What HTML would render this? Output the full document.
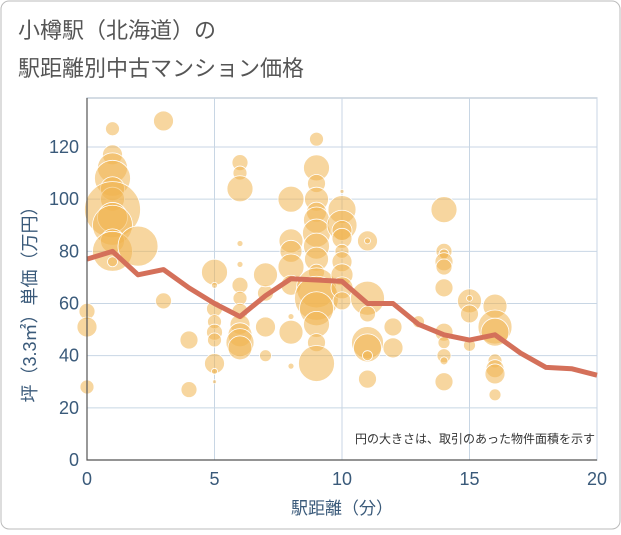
<!DOCTYPE html>
<html><head><meta charset="utf-8"><style>
body{margin:0;background:#fff;}
svg text{font-family:"Liberation Sans","Noto Sans CJK JP",sans-serif;}
</style></head><body>
<svg id="c" width="621" height="530" viewBox="0 0 621 530">
<rect x="1" y="1" width="619" height="528" rx="8" fill="#fff" stroke="#bbb"/>
<text x="18" y="38" font-size="22" fill="#555">小樽駅（北海道）の</text>
<text x="18" y="76" font-size="22" fill="#555">駅距離別中古マンション価格</text>
<g id="grid"></g><g id="bubbles"></g><g id="line"></g><g id="axes"></g>
<text x="595" y="443" font-size="12" fill="#333" text-anchor="end">円の大きさは、取引のあった物件面積を示す</text>
<text x="342" y="514" font-size="17" fill="#3a5a7a" text-anchor="middle">駅距離（分）</text>
<text transform="translate(36,300) rotate(-90)" font-size="18" fill="#3a5a7a" text-anchor="middle">坪（3.3㎡）単価（万円）</text>
</svg>
<script>
const xTicks=[0,5,10,15,20];
const yTicks=[0,20,40,60,80,100,120];
const lineX=[0,1,2,3,4,5,6,7,8,9,10,11,12,13,14,15,16,17,18,19,20];
const lineY=[77,80,71,73,66,60,55,63,69.5,69,68.5,60,60,52,48,46,48,41,35.5,35,32.5];
const bubbleX=[0,0,0,1,1,1,1,1,1,1,1,1,1,1,1,2,3,3,4,4,5,5,5,5,5,5,5,5,5,6,6,6,6,6,6,6,6,6,6,6,6,7,7,7,7,8,8,8,8,8,8,8,8,9,9,9,9,9,9,9,9,9,9,9,9,9,9,9,9,10,10,10,10,10,10,10,10,10,10,11,11,11,11,11,11,11,11,12,12,13,14,14,14,14,14,14,14,14,14,14,14,15,15,15,15,16,16,16,16,16,16,16];
const bubbleY=[57,51,28,127,117,112,108,104,100,96,93,90,84,80,76,82,130,61,46,27,72,67,58,53,49,46,37,34,30,114,110,104,83,75,67,62,57,52,48,45,43,64,71,51,40,100,84,80,74,67,55,49,36,123,112,106,100,95,92,87,82,77,72,66,62,58,52,45,37,103,96,90,88,85,80,76,71,66,61,84,84,62,56,45,43,40,31,51,43,53,96,80,79,76,74,66,49,45,40,38,30,61,62,56,44,59,51,49,38,35,33,25];
const bubbleSize=[8,10,7,7,10,15,18,12,12,28,15,20,12,20,5,20,10,8,9,8,13,3,8,7,8,7,10,3,2,8,7,13,3,3,8,7,8,10,12,14,12,8,12,10,6,13,12,11,13,10,3,12,3,7,13,9,12,10,13,14,13,12,8,20,22,17,13,9,18,2,14,15,10,10,7,10,11,11,9,10,3,17,8,16,14,5,9,9,10,6,13,8,5,9,8,9,9,6,7,4,9,12,3,9,6,12,17,14,7,9,10,6];
const X0=87,X1=597,Y0=460,Y1=147;
const sx=v=>X0+(v-0)*(X1-X0)/20;
const sy=v=>Y0-v*(Y0-Y1)/120;
const NS='http://www.w3.org/2000/svg';
function mk(tag,attrs,parent){const e=document.createElementNS(NS,tag);for(const k in attrs)e.setAttribute(k,attrs[k]);parent.appendChild(e);return e;}
const grid=document.getElementById('grid'),axes=document.getElementById('axes');
mk('rect',{x:X0,y:98,width:X1-X0,height:Y0-98,fill:'none',stroke:'#aab8c8','stroke-width':1},grid);
xTicks.forEach(t=>{
 const l=mk('line',{x1:sx(t),x2:sx(t),y1:98,y2:Y0,stroke:'#c8d6e4','stroke-width':1},grid);
 
 
 const tx=mk('text',{x:sx(t),y:485,'font-size':18,fill:'#3a5a7a','text-anchor':'middle'},axes);tx.textContent=t;
 
 
});
yTicks.forEach(t=>{
 const l=mk('line',{x1:X0,x2:X1,y1:sy(t),y2:sy(t),stroke:'#c8d6e4','stroke-width':1},grid);
 
 
 const tx=mk('text',{x:79,y:sy(t)+6,'font-size':18,fill:'#3a5a7a','text-anchor':'end'},axes);tx.textContent=t;
 
 
});
const ax=mk('path',{d:`M${X0} 98V${Y0}H${X1}`,fill:'none',stroke:'#555','stroke-width':1.2},axes);


const bg=document.getElementById('bubbles');
bubbleX.forEach((v,i)=>{
 const c=mk('circle',{cx:sx(v),cy:sy(bubbleY[i]),r:bubbleSize[i],fill:'rgba(240,180,80,0.55)',stroke:'#fff','stroke-width':0.8},bg);
 
 
});
const p=mk('polyline',{points:lineX.map((v,i)=>sx(v)+','+sy(lineY[i])).join(' '),fill:'none',stroke:'#d4705a','stroke-width':5,'stroke-linejoin':'round'},document.getElementById('line'));


</script>
</body></html>
